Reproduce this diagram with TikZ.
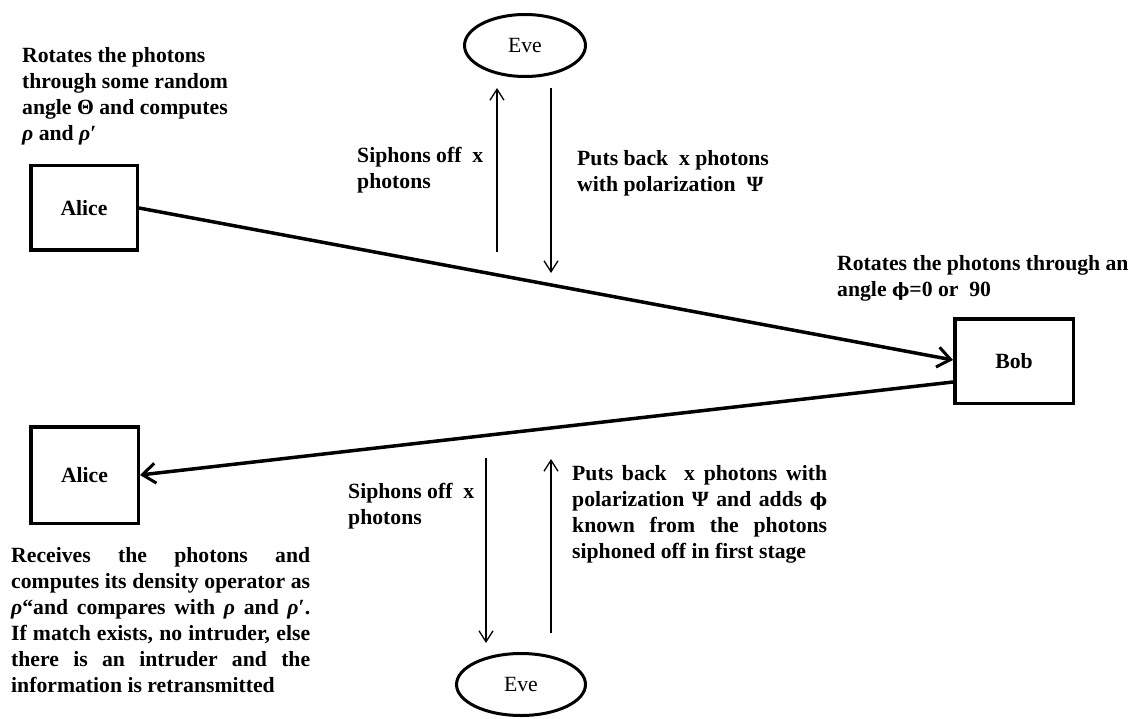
\documentclass[tikz,border=0pt]{standalone}
\usepackage{fontspec}
\setmainfont{Liberation Serif}
\newfontfamily\symserif[Scale=0.85]{DejaVu Serif}
\usetikzlibrary{arrows.meta,shapes.geometric}

% text helpers
\newcommand\bodysize{\fontsize{21.7pt}{26pt}\selectfont}
\newcommand\rh{\textit{ρ}}
\newcommand\rhp{\textit{ρ}′}
\newcommand\ph{{\symserif\bfseries ϕ}}

\tikzset{
  party/.style={draw, line width=3.5pt, inner sep=0pt, font=\bodysize\bfseries},
  spy/.style={draw, ellipse, line width=3pt, inner sep=0pt, font=\bodysize},
  note/.style={inner sep=0pt, anchor=north west, font=\bodysize\bfseries, align=left},
  flow/.style={line width=3.5pt, -{Straight Barb[length=13pt,width=20pt,line width=3pt]}},
  tap/.style={line width=1.3pt, -{Straight Barb[length=11pt,width=14pt]}},
}

\begin{document}
\begin{tikzpicture}[x=1pt,y=-1pt]
\useasboundingbox (0,0) rectangle (1145,719);

% parties
\node[party, minimum width=106.5pt, minimum height=84.5pt] (alice1) at (84,208) {Alice};
\node[party, minimum width=118.5pt, minimum height=84.5pt] (bob) at (1014,361) {Bob};
\node[party, minimum width=107.5pt, minimum height=96.5pt] (alice2) at (84.5,475) {Alice};
\node[spy, minimum width=121pt, minimum height=62pt] (eveT) at (525,45.5) {Eve};
\node[spy, minimum width=129pt, minimum height=62pt] (eveB) at (521,684.5) {Eve};

% photon transmission
\draw[flow] (alice1.east) -- ([yshift=1pt]bob.west);
\draw[flow] ([yshift=-21pt]bob.west) -- (alice2.east);

% eavesdropper taps
\coordinate (t1a) at (497,252);
\coordinate (t1b) at (497,88);
\coordinate (t2a) at (551,88);
\coordinate (t2b) at (551,273);
\coordinate (t3a) at (486,458);
\coordinate (t3b) at (486,643);
\coordinate (t4a) at (551,633);
\coordinate (t4b) at (551,459);
\draw[tap] (t1a) -- (t1b);
\draw[tap] (t2a) -- (t2b);
\draw[tap] (t3a) -- (t3b);
\draw[tap] (t4a) -- (t4b);

% annotations
\node[note] (n1) at (22,47) {Rotates the photons\\through some random\\angle Θ and computes\\\rh{} and \rhp};
\node[note] (n2) at (357,147) {Siphons off\ \ x\\photons};
\node[note] (n3) at (577,150) {Puts back\ \ x photons\\with polarization\ \ Ψ};
\node[note] (n4) at (837,255) {Rotates the photons through an\\angle \ph=0 or\ \ 90};
\node[note, text width=299pt, align=justify] (n5) at (11,547)
  {Receives the photons and\linebreak
   computes its density operator as\linebreak
   \rh“and compares with \rh{} and \rhp.\linebreak
   If match exists, no intruder, else\linebreak
   there is an intruder and the\linebreak
   information is retransmitted};
\node[note] (n6) at (348,483) {Siphons off\ \ x\\photons};
\node[note, text width=255pt, align=justify] (n7) at (572,465)
  {Puts back\ \ x photons with\linebreak
   polarization Ψ and adds \ph\linebreak
   known from the photons\linebreak
   siphoned off in first stage};
\end{tikzpicture}
\end{document}
